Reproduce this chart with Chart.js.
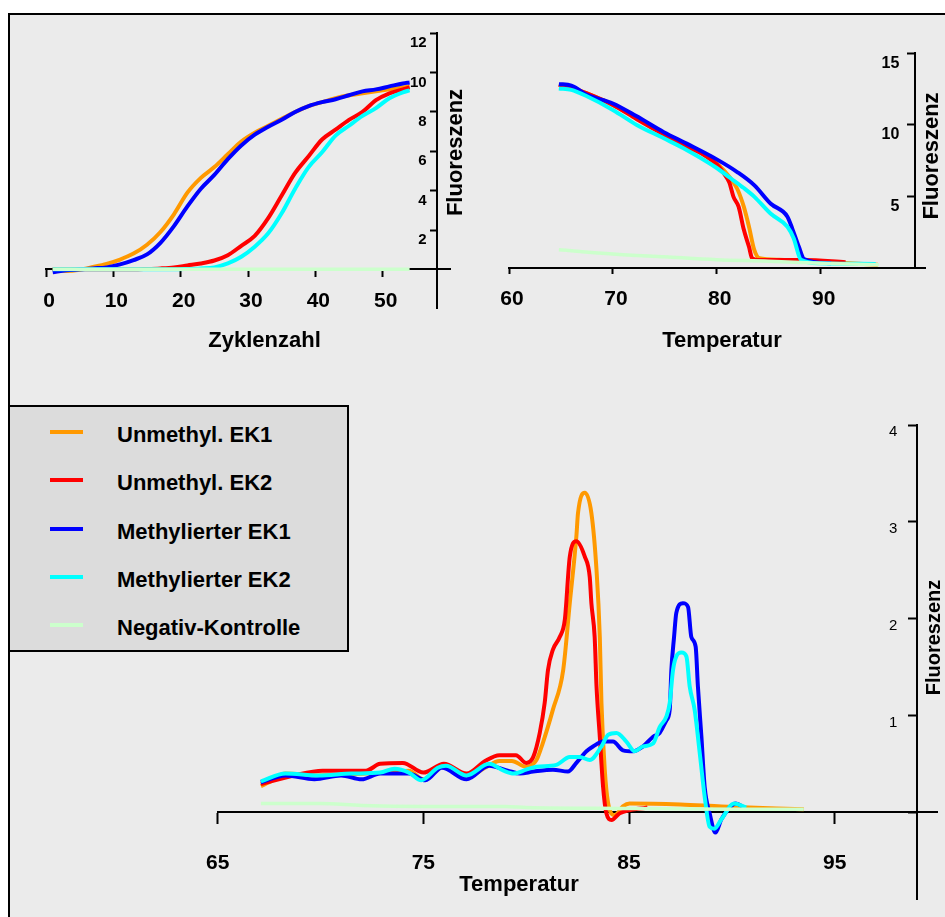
<!DOCTYPE html>
<html><head><meta charset="utf-8">
<script src="https://cdn.jsdelivr.net/npm/chart.js@4.4.1/dist/chart.umd.min.js"></script>
<style>
html,body{margin:0;padding:0;background:#fff;}
#stage{position:relative;width:945px;height:917px;overflow:hidden;}
#frame{position:absolute;left:8px;top:13px;width:937px;height:904px;background:#ebebeb;border-top:2px solid #000;border-left:2px solid #000;box-sizing:border-box;}
canvas{position:absolute;left:0;top:0;}
#legend{position:absolute;left:8px;top:405px;width:341px;height:247px;background:#dcdcdc;border:2px solid #000;box-sizing:border-box;font:bold 22px 'Liberation Sans',Arial,sans-serif;color:#000;}
.row{position:absolute;left:0;width:330px;height:30px;line-height:30px;}
.swatch{position:absolute;left:40px;top:10px;width:33px;height:4px;}
.lbl{position:absolute;left:107px;top:0;white-space:nowrap;}
</style></head>
<body>
<div id="stage">
  <div id="frame"></div>
  <div id="legend"></div>
  <canvas id="c1" width="945" height="917"></canvas>
  <canvas id="c2" width="945" height="917"></canvas>
  <canvas id="c3" width="945" height="917"></canvas>
</div>
<script>
// ---------------- DATA ----------------
const seriesNames  = ['Unmethyl. EK1', 'Unmethyl. EK2', 'Methylierter EK1', 'Methylierter EK2', 'Negativ-Kontrolle'];
const seriesColors = ['#ff9900', '#ff0000', '#0000ff', '#00ffff', '#ccffcc'];

// Panel 1: amplification (Zyklenzahl vs Fluoreszenz)
const ampCycles  = [1,3,5,7,9,11,13,15,17,19,21,23,25,27,29,31,33,35,37,39,41,43,45,47,49,51,53,54];
const ampUnmeth1 = [0.0,-0.08,-0.02,0.12,0.28,0.5,0.8,1.25,1.9,2.8,3.9,4.65,5.2,5.85,6.5,6.95,7.3,7.65,8.0,8.3,8.5,8.7,8.85,8.95,9.05,9.15,9.25,9.3];
const ampUnmeth2 = [0,0,0,0,0,0,0,0.02,0.05,0.1,0.2,0.3,0.45,0.72,1.2,1.7,2.6,3.75,4.9,5.75,6.6,7.1,7.6,8.0,8.6,8.95,9.15,9.25];
const ampMeth1   = [-0.15,-0.05,0.0,0.05,0.1,0.25,0.47,0.76,1.35,2.2,3.2,4.1,4.8,5.6,6.3,6.85,7.25,7.6,8.0,8.3,8.5,8.65,8.85,9.05,9.15,9.3,9.45,9.5];
const ampMeth2   = [0,0,0,0,0,0,0,0,0,0,0.02,0.05,0.1,0.3,0.64,1.15,1.83,2.85,4.1,5.2,5.95,6.8,7.3,7.8,8.2,8.7,9.0,9.1];
const ampNeg     = [0,0,0,0,0,0,0,0,0,0,0,0,0,0,0,0,0,0,0,0,0,0,0,0,0,0,0,0];
const ampXTicks  = [0,10,20,30,40,50];
const ampYTicks  = [2,4,6,8,10,12];

// Panel 2: melting curve (Temperatur vs Fluoreszenz)
const meltUnmeth1T = [64.8,66,67.5,70,72.3,75,77.1,79,80.2,81.3,82,82.6,83.1,83.6,84.1,86,90,95.5];
const meltUnmeth1F = [12.8,12.6,12.2,11.4,10.5,9.4,8.6,7.9,7.2,6.3,5.5,4.3,2.9,1.3,0.7,0.6,0.45,0.25];
const meltUnmeth2T = [64.8,66,67.5,70,72.3,75,77.1,79,80.2,80.7,81.2,81.6,82.1,82.6,83.1,83.4,83.9,88.4,92.4];
const meltUnmeth2F = [12.8,12.6,12.2,11.4,10.4,9.3,8.5,7.8,7.1,6.6,6.0,5.0,4.3,2.7,1.5,0.7,0.58,0.58,0.42];
const meltMeth1T   = [64.8,66,67.5,70,72.3,74.9,77.1,80,82,83.6,85.2,86.8,87.3,87.9,88.4,91];
const meltMeth1F   = [12.85,12.75,12.1,11.5,10.6,9.5,8.7,7.6,6.7,5.8,4.5,3.6,2.7,1.5,0.65,0.35];
const meltMeth2T   = [64.8,66,67.5,70,72.3,74.9,77.1,80,81.3,82.6,83.6,85.2,86.8,87.4,88.1,90,95.3];
const meltMeth2F   = [12.55,12.45,12.0,11.05,10.0,9.07,8.26,7.0,6.3,5.6,5.0,3.8,2.9,2.1,0.6,0.35,0.3];
const meltNegT     = [64.8,70,75,80,85,90,95.6];
const meltNegF     = [1.3,1.0,0.8,0.6,0.5,0.35,0.25];
const meltXTicks   = [60,70,80,90];
const meltYTicks   = [5,10,15];

// Panel 3: melting peaks (Temperatur vs Fluoreszenz)
const derivUnmeth1T = [67.1,67.5,68.3,69.9,72.2,73.4,74.3,75,75.7,76.1,77.1,78,78.7,79.3,80.0,80.5,80.8,81.3,81.8,82.12,82.44,82.52,82.85,83.17,83.42,83.58,83.66,83.82,83.98,84.3,84.7,85.03,87.5,89.5,93.5];
const derivUnmeth1F = [0.27,0.31,0.4,0.38,0.4,0.41,0.43,0.34,0.45,0.48,0.36,0.46,0.53,0.53,0.47,0.54,0.71,1.06,1.47,2.16,2.85,3.09,3.30,3.09,2.5,1.81,1.13,0.44,0.1,-0.03,0.06,0.09,0.08,0.06,0.03];
const derivUnmeth2T = [67.1,68.7,70.1,71.3,72.2,72.9,74,75,76,77.1,78,78.7,79.5,80.0,80.34,80.66,80.9,81.06,81.3,81.63,81.88,82.12,82.44,82.85,83.09,83.17,83.33,83.42,83.58,83.74,83.9,84.15,84.55,85.9];
const derivUnmeth2F = [0.29,0.38,0.43,0.43,0.43,0.5,0.51,0.41,0.5,0.4,0.53,0.59,0.59,0.51,0.57,0.82,1.13,1.47,1.68,1.81,1.99,2.64,2.80,2.64,2.43,2.16,1.81,1.3,0.78,0.26,-0.01,-0.08,-0.01,0.05];
const derivMeth1T   = [67.1,68.3,69.7,71,72,72.9,74.3,75.1,75.9,77.1,78.2,79.1,79.7,80.34,81.3,82.03,82.44,82.93,83.25,83.74,84.22,84.71,85.2,85.68,86.17,86.49,86.82,86.98,87.06,87.19,87.3,87.62,87.87,88.03,88.24,88.35,88.52,88.68,88.92,89.2,89.5,90.2,90.6];
const derivMeth1F   = [0.31,0.38,0.34,0.38,0.34,0.4,0.4,0.33,0.46,0.34,0.48,0.43,0.40,0.42,0.44,0.42,0.51,0.63,0.68,0.73,0.73,0.64,0.63,0.68,0.78,0.82,0.95,1.06,1.47,1.81,2.06,2.16,2.12,1.81,1.71,1.3,0.78,0.26,-0.01,-0.21,-0.07,0.09,0.05];
const derivMeth2T   = [67.1,68.3,69.9,71.5,72.9,73.6,74.3,74.9,75.7,76.1,77.1,78.2,78.9,79.4,80.0,80.5,81.47,82.12,82.6,83.09,83.66,83.98,84.39,84.87,85.28,85.68,86.17,86.49,86.82,86.98,87.14,87.3,87.55,87.79,87.95,88.19,88.44,88.68,88.92,89.15,89.5,90.1,90.7];
const derivMeth2F   = [0.32,0.4,0.38,0.4,0.41,0.45,0.41,0.33,0.46,0.48,0.38,0.5,0.43,0.4,0.44,0.47,0.49,0.57,0.57,0.54,0.68,0.80,0.82,0.73,0.63,0.68,0.71,0.88,0.99,1.13,1.47,1.61,1.65,1.61,1.3,1.06,0.61,0.16,-0.15,-0.17,-0.07,0.09,0.05];
const derivNegT     = [67.1,70,72,75,79,80,85,90,93.5];
const derivNegF     = [0.09,0.09,0.07,0.06,0.06,0.05,0.04,0.03,0.03];
const derivXTicks   = [65,75,85,95];
const derivYTicks   = [1,2,3,4];

// ---------------- RENDERING ----------------
const FONT = "'Liberation Sans', Arial, sans-serif";

const freeTitles = {
  id: 'freeTitles',
  afterDraw(chart, args, opts) {
    const ctx = chart.ctx;
    (opts.items || []).forEach(t => {
      ctx.save();
      ctx.font = 'bold ' + t.size + 'px ' + FONT;
      ctx.fillStyle = '#000';
      ctx.textAlign = 'center';
      ctx.textBaseline = 'middle';
      ctx.translate(t.x, t.y);
      if (t.rot) ctx.rotate(t.rot);
      ctx.fillText(t.text, 0, 0);
      ctx.restore();
    });
  }
};

function pts(xs, ys) { return xs.map((x, i) => ({x: x, y: ys[i]})); }

function ds(i, data, width) {
  return {
    label: seriesNames[i], data: data, borderColor: seriesColors[i], backgroundColor: seriesColors[i],
    borderWidth: width, pointRadius: 0, fill: false, cubicInterpolationMode: 'monotone', order: 4 - i,
    borderJoinStyle: 'round', borderCapStyle: 'butt'
  };
}

function xAxis(min, max, tickVals, o) {
  return {
    type: 'linear', min: min, max: max, position: {y: 0},
    afterFit: s => { s.height = 0; },
    afterBuildTicks: s => { s.ticks = tickVals.map(v => ({value: v})); },
    grid: {drawOnChartArea: false, drawTicks: true, tickLength: o.tl, tickColor: '#000', tickWidth: 2},
    border: {display: true, color: '#000', width: 2},
    ticks: {color: '#000', font: {family: FONT, size: o.size, weight: 'bold'}, padding: o.pad, labelOffset: o.lo, maxRotation: 0, minRotation: 0, autoSkip: false}
  };
}
// the axis line and its tick marks (crossing the x axis at a given temperature / cycle)
function yAxisLine(min, max, atX, tickVals, tl) {
  return {
    type: 'linear', min: min, max: max, position: {x: atX},
    afterFit: s => { s.width = 0; },
    afterBuildTicks: s => { s.ticks = tickVals.map(v => ({value: v})); },
    grid: {drawOnChartArea: false, drawTicks: true, tickLength: tl, tickColor: '#000', tickWidth: 2},
    border: {display: true, color: '#000', width: 2},
    ticks: {display: false}
  };
}
// the tick labels of the same axis, drawn mirrored just left of the axis line
function yAxisLabels(min, max, tickVals, o) {
  return {
    type: 'linear', min: min, max: max, position: 'right',
    afterFit: s => { s.width = 0; },
    afterBuildTicks: s => { s.ticks = tickVals.map(v => ({value: v})); },
    grid: {display: false, drawTicks: false},
    border: {display: false},
    ticks: {mirror: true, color: '#000', font: {family: FONT, size: o.size, weight: o.weight}, padding: o.pad, labelOffset: o.lo, autoSkip: false}
  };
}

function makeChart(id, datasets, scales, padding, titles) {
  return new Chart(document.getElementById(id), {
    type: 'line',
    data: {datasets: datasets},
    options: {
      responsive: false, animation: false, events: [],
      layout: {padding: padding, autoPadding: false},
      scales: scales,
      plugins: {legend: {display: false}, tooltip: {enabled: false}, freeTitles: {items: titles}}
    },
    plugins: [freeTitles]
  });
}

// Panel 1
makeChart('c1', [
  ds(0, pts(ampCycles, ampUnmeth1), 4),
  ds(1, pts(ampCycles, ampUnmeth2), 4),
  ds(2, pts(ampCycles, ampMeth1), 4),
  ds(3, pts(ampCycles, ampMeth2), 4),
  ds(4, pts(ampCycles, ampNeg), 3.5)
], {
  x: xAxis(0, 60, ampXTicks, {tl: 7, size: 21, pad: 12, lo: 3}),
  y: yAxisLine(-2, 12, 58, ampYTicks, 6),
  yl: yAxisLabels(-2, 12, ampYTicks, {size: 15, weight: 'bold', pad: -23.3, lo: 10})
}, {left: 46, right: 495, top: 33.3, bottom: 608.3}, [
  {text: 'Zyklenzahl', x: 264.5, y: 341, size: 22},
  {text: 'Fluoreszenz', x: 456, y: 152.5, size: 22, rot: -Math.PI / 2}
]);

// Panel 2
makeChart('c2', [
  ds(0, pts(meltUnmeth1T, meltUnmeth1F), 4),
  ds(1, pts(meltUnmeth2T, meltUnmeth2F), 4),
  ds(2, pts(meltMeth1T, meltMeth1F), 4),
  ds(3, pts(meltMeth2T, meltMeth2F), 4),
  ds(4, pts(meltNegT, meltNegF), 3.5)
], {
  x: xAxis(60, 100.1, meltXTicks, {tl: 5, size: 21, pad: 13, lo: 3}),
  y: yAxisLine(0, 15, 99.1, meltYTicks, 7),
  yl: yAxisLabels(0, 15, meltYTicks, {size: 16, weight: 'bold', pad: -26.3, lo: 10})
}, {left: 509, right: 19.4, top: 53.3, bottom: 648.7}, [
  {text: 'Temperatur', x: 722, y: 341, size: 22},
  {text: 'Fluoreszenz', x: 932, y: 156, size: 22, rot: -Math.PI / 2}
]);

// Panel 3
makeChart('c3', [
  ds(0, pts(derivUnmeth1T, derivUnmeth1F), 4),
  ds(1, pts(derivUnmeth2T, derivUnmeth2F), 4),
  ds(2, pts(derivMeth1T, derivMeth1F), 4),
  ds(3, pts(derivMeth2T, derivMeth2F), 4),
  ds(4, pts(derivNegT, derivNegF), 3.5)
], {
  x: xAxis(65, 100, derivXTicks, {tl: 11, size: 21, pad: 27, lo: 0}),
  y: yAxisLine(-0.9, 4, 99, [0].concat(derivYTicks), 8),
  yl: yAxisLabels(-0.9, 4, derivYTicks, {size: 15, weight: 'normal', pad: -40.2, lo: 7})
}, {left: 217.7, right: 7.5, top: 425, bottom: 17.6}, [
  {text: 'Temperatur', x: 519, y: 885, size: 22},
  {text: 'Fluoreszenz', x: 934, y: 637.5, size: 20, rot: -Math.PI / 2}
]);

// Legend (HTML, built from the series definitions)
const legend = document.getElementById('legend');
seriesNames.forEach((name, i) => {
  const row = document.createElement('div');
  row.className = 'row';
  row.style.top = (28 + i * 48.3 - 15) + 'px';
  const sw = document.createElement('div');
  sw.className = 'swatch';
  sw.style.background = seriesColors[i];
  const lb = document.createElement('div');
  lb.className = 'lbl';
  lb.textContent = name;
  row.appendChild(sw); row.appendChild(lb);
  legend.appendChild(row);
});
</script>
</body></html>
